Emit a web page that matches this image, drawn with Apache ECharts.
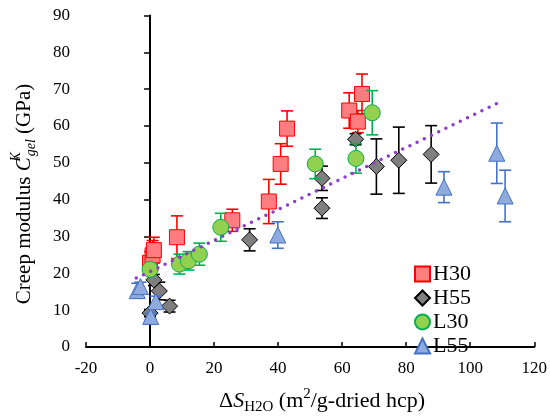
<!DOCTYPE html>
<html>
<head>
<meta charset="utf-8">
<script src="https://cdn.jsdelivr.net/npm/echarts@6/dist/echarts.min.js"></script>
<style>html,body{margin:0;padding:0;background:#fff}#c{width:550px;height:417px}</style>
</head>
<body>
<div id="c"></div>
<script>
// ---- data ----
var h30X = [0, 0.8, 1.2, 8.4, 25.7, 37.1, 40.8, 42.8, 62.2, 64.9, 66.2];
var h30Y = [22.9, 24.9, 26.3, 29.8, 34.4, 39.5, 49.7, 59.3, 64.2, 61.2, 68.7];
var h30E = [3, 4, 3.5, 5.8, 3, 6, 5.5, 4.8, 4.8, 3, 5.4];

var h55X = [0, 1.2, 2.9, 6.1, 31.1, 53.7, 53.7, 64.2, 70.7, 77.7, 87.8];
var h55Y = [9.2, 18.2, 15.2, 11.1, 29.1, 37.7, 45.8, 56.4, 49.0, 50.7, 52.3];
var h55E = [1, 1.5, 2.4, 1.6, 3, 2.8, 3.3, 1.5, 7.5, 9, 7.8];

var l30X = [0, 9.2, 12, 15.4, 22.1, 51.6, 64.3, 69.4];
var l30Y = [21.1, 22.5, 23.4, 25.2, 32.5, 49.7, 51.2, 63.6];
var l30E = [1, 2.7, 2.5, 3, 3.8, 4, 4, 6];

var l55X = [-4.0, -3.0, 0.2, 1.8, 39.9, 91.8, 108.3, 110.9];
var l55Y = [15.3, 16.4, 8.3, 12.3, 30.4, 43.4, 52.6, 41.0];
var l55E = [2, 1.2, 0.8, 1.5, 3.6, 4.2, 8.2, 7];

var trendX = [-4.3, 109.5];
var trendY = [18.7, 66.6];

var seriesNames = ['H30', 'H55', 'L30', 'L55'];
var xTicks = {min: -20, max: 120, interval: 20};
var yTicks = {min: 0, max: 90, interval: 10};

// ---- chart ----
var FONT = 'Liberation Serif';
function pts(xs, ys) { return xs.map(function (x, i) { return [x, ys[i]]; }); }
function errs(xs, ys, es) { return xs.map(function (x, i) { return [x, ys[i], es[i]]; }); }

function errSeries(name, data, color, z) {
  return {
    name: name + '_err', type: 'custom', z: z, silent: true,
    data: data,
    renderItem: function (params, api) {
      var x = api.value(0), y = api.value(1), e = api.value(2);
      var t = api.coord([x, y + e]), b = api.coord([x, y - e]);
      var hw = 6;
      var st = {stroke: color, lineWidth: 1.6};
      return {
        type: 'group',
        children: [
          {type: 'line', shape: {x1: t[0], y1: t[1], x2: b[0], y2: b[1]}, style: st},
          {type: 'line', shape: {x1: t[0] - hw, y1: t[1], x2: t[0] + hw, y2: t[1]}, style: st},
          {type: 'line', shape: {x1: b[0] - hw, y1: b[1], x2: b[0] + hw, y2: b[1]}, style: st}
        ]
      };
    }
  };
}
function scat(name, data, symbol, size, fill, border, z) {
  return {
    name: name, type: 'scatter', z: z, symbol: symbol, symbolSize: size, data: data,
    itemStyle: {color: fill, borderColor: border, borderWidth: 1, opacity: 1}
  };
}

var chart = echarts.init(document.getElementById('c'), null, {renderer: 'canvas'});
chart.setOption({
  animation: false,
  backgroundColor: '#ffffff',
  grid: {left: 86, right: 13, top: 15.5, bottom: 70, containLabel: false},
  xAxis: {
    type: 'value', min: xTicks.min, max: xTicks.max, interval: xTicks.interval,
    splitLine: {show: false},
    axisLine: {onZero: true, lineStyle: {color: '#000', width: 2}},
    axisTick: {inside: true, length: 5, lineStyle: {color: '#000', width: 1.5}},
    axisLabel: {fontFamily: FONT, fontSize: 17, color: '#000', margin: 13}
  },
  yAxis: {
    type: 'value', min: yTicks.min, max: yTicks.max, interval: yTicks.interval,
    splitLine: {show: false},
    axisLine: {onZero: true, lineStyle: {color: '#000', width: 2}},
    axisTick: {inside: false, length: 6, lineStyle: {color: '#000', width: 1.5}},
    axisLabel: {fontFamily: FONT, fontSize: 17, color: '#000', margin: 16}
  },
  legend: {
    data: seriesNames, orient: 'vertical', left: 409, top: 258,
    itemWidth: 15, itemHeight: 15, itemGap: 2,
    textStyle: {fontFamily: FONT, fontSize: 22, color: '#000', padding: [0, 0, 0, -2]}
  },
  series: [
    errSeries('H30', errs(h30X, h30Y, h30E), '#FF0000', 1),
    scat('H30', pts(h30X, h30Y), 'rect', 15, '#FF7C80', '#FF0000', 2),
    errSeries('H55', errs(h55X, h55Y, h55E), '#000000', 3),
    scat('H55', pts(h55X, h55Y), 'diamond', 16, '#7F7F7F', '#000000', 4),
    errSeries('L30', errs(l30X, l30Y, l30E), '#00B050', 5),
    scat('L30', pts(l30X, l30Y), 'circle', 16, '#92D050', '#00B050', 6),
    errSeries('L55', errs(l55X, l55Y, l55E), '#4472C4', 7),
    scat('L55', pts(l55X, l55Y), 'triangle', 16, '#8FAADC', '#4472C4', 8),
    {
      name: 'trend', type: 'line', z: 9, showSymbol: false, silent: true,
      data: pts(trendX, trendY),
      lineStyle: {color: '#8E3CCB', width: 3.5, type: [0, 8], cap: 'round'}
    }
  ],
  graphic: [
    {
      type: 'text', x: 322, y: 401, silent: true,
      style: {
        text: '{n|Δ}{i|S}{sub|H2O}{n| (m}{sup|2}{n|/g-dried hcp)}',
        align: 'center', verticalAlign: 'middle',
        rich: {
          n: {fontFamily: FONT, fontSize: 22, color: '#000', lineHeight: 28},
          i: {fontFamily: FONT, fontSize: 22, fontStyle: 'italic', color: '#000', lineHeight: 28},
          sub: {fontFamily: FONT, fontSize: 15, color: '#000', verticalAlign: 'bottom', lineHeight: 17},
          sup: {fontFamily: FONT, fontSize: 15, color: '#000', verticalAlign: 'top', lineHeight: 17}
        }
      }
    },
    {
      type: 'text', x: 24, y: 194, rotation: Math.PI / 2, silent: true,
      style: {
        text: '{n|Creep modulus }{i|C}{sup|K}{sub|gel}{n| (GPa)}',
        align: 'center', verticalAlign: 'middle',
        rich: {
          n: {fontFamily: FONT, fontSize: 21, color: '#000', lineHeight: 29},
          i: {fontFamily: FONT, fontSize: 21, fontStyle: 'italic', color: '#000', lineHeight: 29},
          sup: {fontFamily: FONT, fontSize: 14, fontStyle: 'italic', color: '#000', verticalAlign: 'top', lineHeight: 16, width: 1},
          sub: {fontFamily: FONT, fontSize: 14, fontStyle: 'italic', color: '#000', verticalAlign: 'bottom', lineHeight: 16}
        }
      }
    }
  ]
});
</script>
</body>
</html>
